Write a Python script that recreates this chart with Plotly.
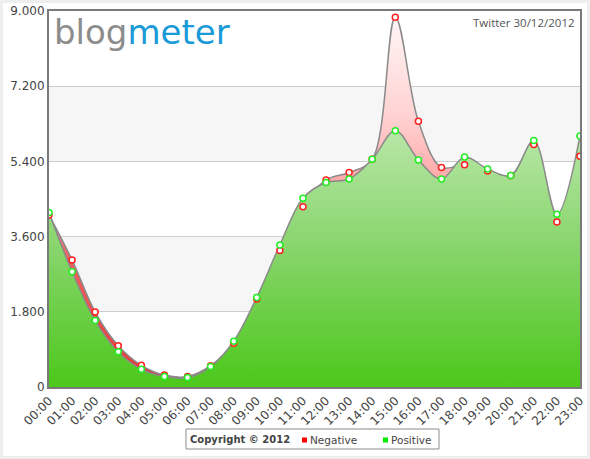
"""Blogmeter - Twitter sentiment per hour, 30/12/2012."""

import plotly.graph_objects as go

hours = ["%02d:00" % h for h in range(24)]
negative = [4120, 3040, 1795, 990, 520, 285, 250, 510, 1045, 2105, 3265, 4315,
            4955, 5135, 5450, 8850, 6360, 5255, 5320, 5170, 5060, 5805, 3950, 5525]
positive = [4175, 2760, 1590, 845, 425, 250, 225, 490, 1095, 2145, 3400, 4520,
            4895, 4980, 5450, 6135, 5435, 4980, 5505, 5220, 5060, 5900, 4135, 6010]
y_ticks = [0, 1800, 3600, 5400, 7200, 9000]
y_labels = ["0", "1.800", "3.600", "5.400", "7.200", "9.000"]

W, H = 590, 459
L, R, T, B = 49, 10, 11, 72
PW, PH = W - L - R, H - T - B


def px(x):
    return (x - L) / PW


def py(y):
    return (H - B - y) / PH


x = list(range(len(hours)))
fig = go.Figure()

# aree
fig.add_trace(go.Scatter(
    x=x, y=negative, mode="lines", line=dict(color="#8a8a8a", width=1.5, shape="spline"),
    fill="tozeroy",
    fillgradient=dict(type="vertical", start=0, stop=9000,
                      colorscale=[[0, "#e83232"], [0.35, "#f46262"], [0.55, "#ffa8a8"],
                                  [0.72, "#ffd2d2"], [1, "#fff8f8"]]),
    showlegend=False, hoverinfo="skip",
))
fig.add_trace(go.Scatter(
    x=x, y=positive, mode="lines", line=dict(color="#8a8a8a", width=1.5, shape="spline"),
    fill="tozeroy",
    fillgradient=dict(type="vertical", start=0, stop=9000,
                      colorscale=[[0, "#4cc81a"], [0.35, "#84d468"], [0.67, "#b6e6a4"],
                                  [1, "#e2f5da"]]),
    showlegend=False, hoverinfo="skip",
))

# punti
fig.add_trace(go.Scatter(
    x=x, y=negative, mode="markers",
    marker=dict(symbol="circle", size=6, color="white", line=dict(color="#ff2020", width=1.5)),
    showlegend=False,
))
fig.add_trace(go.Scatter(
    x=x, y=positive, mode="markers",
    marker=dict(symbol="circle", size=6, color="white", line=dict(color="#22ee22", width=1.5)),
    showlegend=False,
))

shapes = [
    dict(type="rect", xref="paper", yref="paper", x0=px(0), x1=px(W), y0=py(H), y1=py(0),
         line=dict(color="#eeeeee", width=6), fillcolor="rgba(0,0,0,0)", layer="above"),
    # riquadro legenda
    dict(type="rect", xref="paper", yref="paper", x0=px(186), x1=px(439), y0=py(449), y1=py(429),
         line=dict(color="#8c8c8c", width=1), fillcolor="white", layer="above"),
    dict(type="rect", xref="paper", yref="paper", x0=px(302), x1=px(307), y0=py(442.5), y1=py(437.5),
         line=dict(width=0), fillcolor="#ff0000", layer="above"),
    dict(type="rect", xref="paper", yref="paper", x0=px(383), x1=px(388), y0=py(442.5), y1=py(437.5),
         line=dict(width=0), fillcolor="#00ee00", layer="above"),
]
for lo, hi in [(1800, 3600), (5400, 7200)]:
    shapes.append(dict(type="rect", xref="paper", yref="y", x0=0, x1=1, y0=lo, y1=hi,
                       fillcolor="#f6f6f6", line=dict(width=0), layer="below"))


def label(text, x0, y0, size, color="#444444", anchor="left", family="DejaVu Sans"):
    return dict(xref="paper", yref="paper", x=px(x0), y=py(y0), xanchor=anchor,
                yanchor="middle", showarrow=False, text=text,
                font=dict(family=family, size=size, color=color))


fig.update_layout(
    width=W, height=H,
    margin=dict(l=L, r=R, t=T, b=B, autoexpand=False),
    paper_bgcolor="white", plot_bgcolor="white",
    font=dict(family="DejaVu Sans", size=12, color="#444444"),
    shapes=shapes,
    showlegend=False,
    xaxis=dict(range=[0, 23], tickvals=x, ticktext=hours, tickangle=-45, automargin=False,
               showgrid=False, zeroline=False, showline=True, linecolor="#7a7a7a",
               linewidth=2, mirror=True, ticks=""),
    yaxis=dict(range=[0, 9000], tickvals=y_ticks, ticktext=y_labels, automargin=False,
               showgrid=True, gridcolor="#cccccc", gridwidth=1, zeroline=False,
               showline=True, linecolor="#7a7a7a", linewidth=2, mirror=True, ticks=""),
    annotations=[
        label('<span style="color:#8c8c8c">blog</span><span style="color:#1a9bd7">meter</span>',
              52, 32, 34),
        label("Twitter 30/12/2012", 577, 23, 11.5, "#555555", "right", "Open Sans"),
        label("<b>Copyright © 2012</b>", 188, 439.5, 10),
        label("Negative", 308, 439.5, 10.5),
        label("Positive", 389, 439.5, 10.5),
    ],
)

fig.write_html("out.html", config={"displayModeBar": False},
               post_script="document.body.style.margin='0';")
